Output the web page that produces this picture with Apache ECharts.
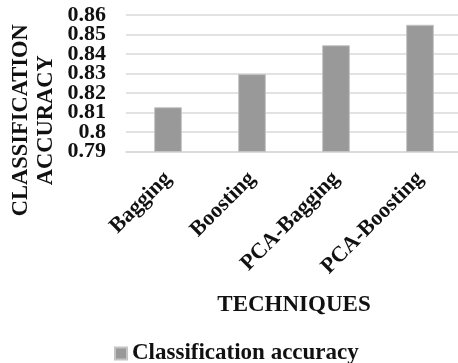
<!DOCTYPE html>
<html>
<head>
<meta charset="utf-8">
<script src="https://cdn.jsdelivr.net/npm/echarts@6/dist/echarts.min.js"></script>
<style>html,body{margin:0;padding:0;background:#fff}#c{width:458px;height:363px}</style>
</head>
<body>
<div id="c"></div>
<script>
const categories = ['Bagging', 'Boosting', 'PCA-Bagging', 'PCA-Boosting'];
const accuracy = [0.8127, 0.8297, 0.8445, 0.855];
const yMin = 0.79, yMax = 0.86, yStep = 0.01;
// labels that ECharts drops for overlapping the min/max labels, shown by a helper axis
const extraMin = 0.80, extraMax = 0.85, extraStep = 0.05;
const seriesName = 'Classification accuracy';

const font = 'Liberation Serif, Times New Roman, serif';
const plotTop = 15, plotHeight = 136.5;
const pxPerUnit = plotHeight / (yMax - yMin);
const labelStyle = { fontFamily: font, fontWeight: 'bold', fontSize: 22, color: '#111' };
const fmt = v => String(+v.toFixed(2));

const chart = echarts.init(document.getElementById('c'));
chart.setOption({
  animation: false,
  grid: [
    { left: 126, top: plotTop, width: 336, height: plotHeight, containLabel: false, outerBoundsMode: 'none' },
    { left: 126, top: plotTop + (yMax - extraMax) * pxPerUnit, width: 336,
      height: (extraMax - extraMin) * pxPerUnit, containLabel: false, outerBoundsMode: 'none' }
  ],
  legend: {
    data: [seriesName], left: 109, top: 337,
    icon: 'rect', itemWidth: 12, itemHeight: 12, itemGap: 5,
    textStyle: { fontFamily: font, fontWeight: 'bold', fontSize: 23, color: '#111' }
  },
  xAxis: [{
    type: 'category', data: categories, gridIndex: 0,
    name: 'TECHNIQUES', nameLocation: 'middle', nameGap: 142, nameMoveOverlap: false,
    nameTextStyle: { fontFamily: font, fontWeight: 'bold', fontSize: 23, color: '#111' },
    axisLine: { lineStyle: { color: '#d9d9d9', width: 1.5 } },
    axisTick: { show: false },
    axisLabel: Object.assign({ rotate: 45, margin: 24, interval: 0, hideOverlap: false }, labelStyle)
  }, {
    type: 'value', gridIndex: 1, min: 0, max: 1, show: false
  }],
  yAxis: [{
    type: 'value', gridIndex: 0, min: yMin, max: yMax, interval: yStep,
    name: 'CLASSIFICATION\nACCURACY', nameLocation: 'middle', nameGap: 67, nameRotate: 90, nameMoveOverlap: false,
    nameTextStyle: { fontFamily: font, fontWeight: 'bold', fontSize: 22.5, color: '#111', lineHeight: 25, padding: [0, 74, 0, 0] },
    axisLine: { show: false }, axisTick: { show: false },
    splitLine: { lineStyle: { color: '#d9d9d9', width: 1.5 } },
    axisLabel: Object.assign({ margin: 20, hideOverlap: false, showMinLabel: true, showMaxLabel: true, formatter: fmt }, labelStyle)
  }, {
    type: 'value', gridIndex: 1, min: extraMin, max: extraMax, interval: extraStep,
    axisLine: { show: false }, axisTick: { show: false }, splitLine: { show: false },
    axisLabel: Object.assign({ margin: 20, showMinLabel: true, showMaxLabel: true, formatter: fmt }, labelStyle)
  }],
  series: [{
    name: seriesName, type: 'bar', data: accuracy, barWidth: '33%', xAxisIndex: 0, yAxisIndex: 0,
    itemStyle: { color: '#999999', borderColor: '#c4c4c4', borderWidth: 1 }
  }]
});
</script>
</body>
</html>
